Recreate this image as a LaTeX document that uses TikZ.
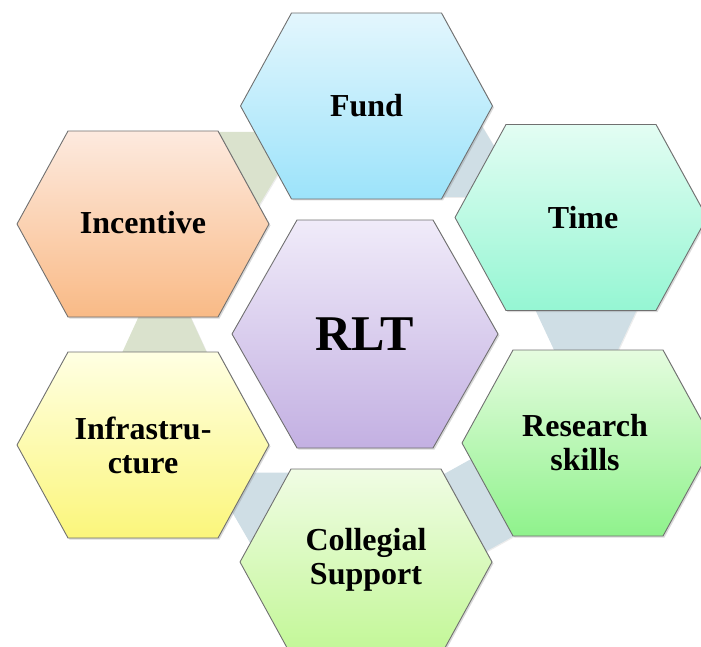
\documentclass[tikz,border=0pt]{standalone}
\usepackage{fontspec}
\setmainfont{Liberation Serif}
\usetikzlibrary{shadows}

\definecolor{hexline}{RGB}{112,112,112}
\definecolor{linkblue}{HTML}{CFDEE5}
\definecolor{linkgreen}{HTML}{DAE2CD}

% hexagon with flat top and bottom: centre x, centre y, half width, half edge, half height
\newcommand{\hexpath}[5]{(#1-#3,#2) -- (#1-#4,#2-#5) -- (#1+#4,#2-#5) -- (#1+#3,#2) -- (#1+#4,#2+#5) -- (#1-#4,#2+#5) -- cycle}

\begin{document}
\begin{tikzpicture}[x=1pt,y=-1pt,
   hexa/.style={draw=hexline,line width=0.9pt,line join=round,
     drop shadow={opacity=0.3,shadow xshift=1.5pt,shadow yshift=-1.5pt}},
   link/.style={fill=#1,drop shadow={opacity=0.15,shadow xshift=1pt,shadow yshift=-1pt}},
   lbl/.style={font=\fontsize{32}{34}\selectfont\bfseries,align=center,inner sep=0pt}]
   \useasboundingbox (0,0) rectangle (701,647);

   % small hexagons linking the outer ring
   \fill[link=linkgreen] \hexpath{224}{172}{55}{31}{40};
   \fill[link=linkblue]  \hexpath{444.3}{155}{55}{29.8}{42};
   \fill[link=linkblue]  \hexpath{586}{305}{53}{31.5}{46};
   \fill[link=linkblue,rotate around={29:(478,505.5)}] \hexpath{478}{505.5}{45}{25}{44};
   \fill[link=linkblue]  \hexpath{284.8}{508}{55}{34.5}{35.3};
   \fill[link=linkgreen] \hexpath{164.5}{354}{43}{26}{37};

   % outer ring
   \draw[hexa,top color={rgb,255:red,227;green,246;blue,253},bottom color={rgb,255:red,156;green,227;blue,250}]
      \hexpath{366.5}{106}{126}{75}{93};
   \draw[hexa,top color={rgb,255:red,227;green,253;blue,243},bottom color={rgb,255:red,149;green,246;blue,211}]
      \hexpath{581}{217.5}{126}{75}{93};
   \draw[hexa,top color={rgb,255:red,229;green,252;blue,223},bottom color={rgb,255:red,143;green,242;blue,140}]
      \hexpath{588}{443}{126}{75}{93};
   \draw[hexa,top color={rgb,255:red,240;green,252;blue,228},bottom color={rgb,255:red,194;green,247;blue,150}]
      \hexpath{366}{562}{126}{75}{93};
   \draw[hexa,top color={rgb,255:red,255;green,255;blue,227},bottom color={rgb,255:red,251;green,246;blue,123}]
      \hexpath{143}{445}{126}{75}{93};
   \draw[hexa,top color={rgb,255:red,253;green,234;blue,223},bottom color={rgb,255:red,249;green,186;blue,134}]
      \hexpath{143}{224}{126}{75}{93};

   % centre
   \draw[hexa,top color={rgb,255:red,240;green,235;blue,249},bottom color={rgb,255:red,195;green,176;blue,226}]
      \hexpath{365}{334}{133}{68}{114};

   \node[lbl] (fund)      at (366.5,106) {Fund};
   \node[lbl] (time)      at (583,217.5) {Time};
   \node[lbl] (research)  at (585,443)   {Research\\skills};
   \node[lbl] (collegial) at (366,560)   {Collegial\\Support};
   \node[lbl] (infra)     at (143,445)   {Infrastru-\\cture};
   \node[lbl] (incentive) at (143,223)   {Incentive};
   \node[lbl,font=\fontsize{50}{54}\selectfont\bfseries] (rlt) at (365,334) {RLT};
\end{tikzpicture}
\end{document}
